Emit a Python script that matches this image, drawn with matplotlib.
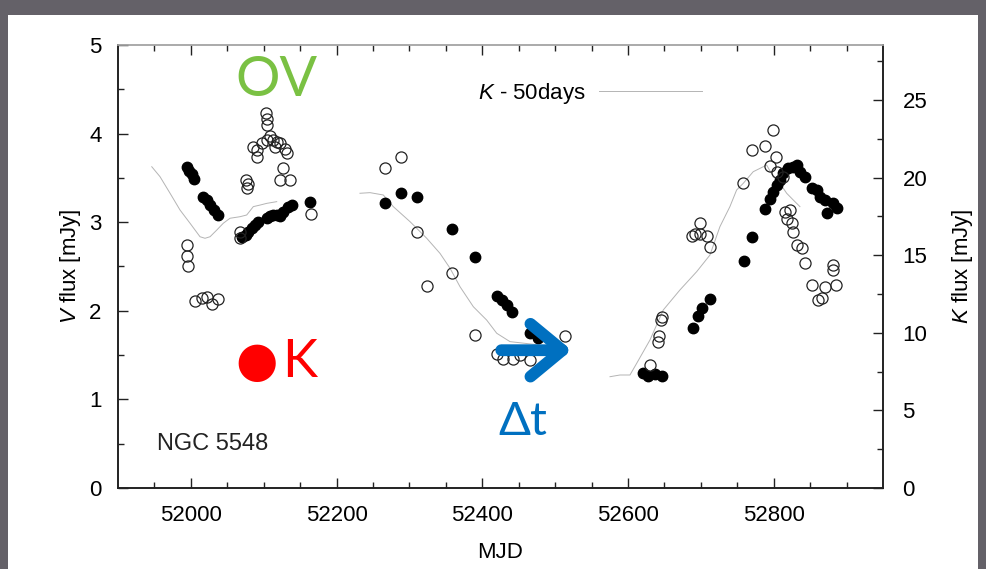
import numpy as np
import matplotlib.pyplot as plt
from matplotlib.patches import Rectangle

plt.rcParams['font.family'] = ['Liberation Sans', 'DejaVu Sans']
plt.rcParams['mathtext.fontset'] = 'custom'
plt.rcParams['mathtext.it'] = 'Liberation Sans:italic'
plt.rcParams['mathtext.rm'] = 'Liberation Sans'

# V band (open circles, left axis)
v_mjd = [51994.3, 51995.1, 51996.5, 52005.7, 52014.9, 52021.7, 52028.6, 52037.7,
         52067.4, 52067.4, 52075.7, 52078.8, 52077.5, 52085.7, 52090.4, 52091.2,
         52097.2, 52104.1, 52108.6, 52113.1, 52117.8, 52115.5, 52122.3, 52129.2,
         52131.5, 52103.1, 52104.9, 52104.1, 52126.9, 52122.3, 52136.1, 52164.5,
         52266.5, 52288.0, 52310.0, 52323.7, 52358.0, 52390.0, 52419.8, 52428.8,
         52442.5, 52451.7, 52465.5, 52513.5,
         52630.2, 52641.6, 52642.9, 52644.8, 52646.2, 52687.4, 52691.9, 52698.8,
         52698.8, 52708.0, 52712.5, 52758.2, 52769.7, 52788.0, 52798.6, 52803.1,
         52794.9, 52804.0, 52813.1, 52815.5, 52822.3, 52817.8, 52824.6, 52826.8,
         52831.4, 52838.3, 52842.9, 52852.1, 52861.2, 52865.8, 52870.4, 52881.8,
         52881.8, 52885.5]
v_flux = [2.74, 2.62, 2.51, 2.11, 2.14, 2.15, 2.08, 2.13,
          2.89, 2.82, 3.48, 3.43, 3.39, 3.85, 3.81, 3.74,
          3.89, 3.93, 3.97, 3.93, 3.91, 3.85, 3.89, 3.83,
          3.78, 4.23, 4.17, 4.10, 3.61, 3.48, 3.48, 3.09,
          3.61, 3.74, 2.89, 2.28, 2.43, 1.73, 1.51, 1.46,
          1.46, 1.50, 1.44, 1.71,
          1.39, 1.65, 1.71, 1.90, 1.93, 2.84, 2.87, 2.87,
          2.99, 2.84, 2.72, 3.44, 3.81, 3.86, 4.04, 3.74,
          3.63, 3.57, 3.51, 3.12, 3.14, 3.04, 2.99, 2.89,
          2.74, 2.71, 2.54, 2.29, 2.12, 2.14, 2.27, 2.52,
          2.46, 2.29]

# K band (filled circles, right axis)
k_mjd = [51994.3, 51997.9, 52001.2, 52004.7, 52017.1, 52021.7, 52026.3, 52031.8,
         52037.7, 52069.8, 52075.7, 52078.8, 52083.5, 52088.0, 52092.6, 52104.1,
         52108.6, 52113.1, 52117.8, 52122.3, 52126.9, 52133.7, 52138.4, 52163.5,
         52266.5, 52288.0, 52310.0, 52358.0, 52390.0, 52419.8, 52426.6, 52433.5,
         52440.4, 52465.5, 52476.9,
         52621.0, 52627.8, 52637.0, 52646.2, 52689.6, 52696.5, 52701.1, 52712.5,
         52759.2, 52770.6, 52788.0, 52794.9, 52799.4, 52804.1, 52808.6, 52813.1,
         52820.0, 52826.8, 52831.5, 52836.0, 52842.9, 52852.1, 52858.9, 52863.5,
         52870.4, 52872.7, 52881.8, 52887.2]
k_flux = [20.66, 20.44, 20.23, 19.89, 18.77, 18.56, 18.23, 17.91,
          17.61, 16.19, 16.30, 16.51, 16.73, 16.95, 17.16, 17.38,
          17.53, 17.59, 17.59, 17.53, 17.80, 18.09, 18.23, 18.45,
          18.38, 18.99, 18.77, 16.67, 14.90, 12.37, 12.11, 11.79,
          11.36, 9.97, 9.65,
          7.39, 7.22, 7.35, 7.24, 10.33, 11.08, 11.58, 12.18,
          14.63, 16.19, 17.96, 18.60, 19.09, 19.52, 19.85, 20.28,
          20.60, 20.70, 20.81, 20.38, 20.06, 19.31, 19.20, 18.77,
          18.56, 17.70, 18.34, 18.02]

# K light curve shifted by -50 days, one list per season
ks_mjd = [[51946.3, 51957.6, 51971.4, 51985.1, 51998.8, 52012.5, 52019.4, 52026.3,
           52035.5, 52044.5, 52053.7, 52067.4, 52076.6, 52085.7, 52094.9, 52104.1,
           52117.8],
          [52232.1, 52245.9, 52264.1, 52277.8, 52300.8, 52323.7, 52341.9, 52355.7,
           52369.4, 52387.7, 52406.0, 52419.8, 52438.0, 52479.2],
          [52575.3, 52589.0, 52602.7, 52611.9, 52630.2, 52648.4, 52671.3, 52694.3,
           52712.5, 52726.2, 52739.9, 52749.1, 52758.2, 52771.9, 52785.7, 52790.3,
           52799.4, 52808.6, 52817.8, 52826.8, 52836.0]]
ks_flux = [[20.70, 20.06, 18.99, 17.91, 17.06, 16.19, 16.09, 16.19,
            16.62, 17.06, 17.38, 17.48, 17.59, 18.13, 18.23, 18.34,
            18.45],
           [18.99, 19.03, 18.88, 18.13, 17.16, 16.09, 15.12, 14.16,
            12.97, 11.68, 10.82, 9.97, 9.43, 9.21],
           [7.17, 7.28, 7.28, 8.03, 9.54, 11.47, 12.76, 13.94,
            15.01, 16.84, 18.13, 19.20, 19.63, 20.38, 20.70, 20.81,
            20.06, 19.63, 18.99, 18.56, 18.13]]

fig = plt.figure(figsize=(9.87, 5.69), dpi=100, facecolor='#646168')
fig.patches.append(Rectangle((8 / 987, 0), 970 / 987, 554 / 569,
                             transform=fig.transFigure, facecolor='white',
                             edgecolor='none', zorder=-5))

ax = fig.add_axes([0.1196, 0.1424, 0.7750, 0.7785])
ax2 = ax.twinx()
ax.set_zorder(2)
ax2.set_zorder(1)
ax.patch.set_visible(False)
ax2.patch.set_visible(False)

for i in range(len(ks_mjd)):
    ax2.plot(ks_mjd[i], ks_flux[i], color='#b4b4b4', lw=0.7,
             label=r'$K$ - 50days' if i == 0 else None)
ax2.plot(k_mjd, k_flux, linestyle='none', marker='o', ms=7.5, color='black')
ax.plot(v_mjd, v_flux, linestyle='none', marker='o', ms=8, mfc='none',
        mec='#222222', mew=0.9)

ax.set_xlim(51900, 52950)
ax.set_ylim(0, 5)
ax2.set_ylim(0, 5 * 88.6 / 15.52)

ax.set_xticks([52000, 52200, 52400, 52600, 52800])
ax.set_xticks(np.arange(51950, 52950, 50), minor=True)
ax.set_yticks([0, 1, 2, 3, 4, 5])
ax.set_yticks(np.arange(0.5, 5, 1), minor=True)
ax2.set_yticks([0, 5, 10, 15, 20, 25])
ax2.set_yticks(np.arange(2.5, 28.5, 5), minor=True)

ax.tick_params(which='both', direction='in', top=True, right=False,
               labelsize=16, width=1.0, color='#222222')
ax.tick_params(which='major', length=7)
ax.tick_params(which='minor', length=4)
ax.tick_params(axis='x', which='both', pad=12)
ax.tick_params(axis='y', which='both', pad=12)
ax2.tick_params(which='both', direction='in', labelsize=16, width=1.0, color='#222222')
ax2.tick_params(which='major', length=7, pad=14)
ax2.tick_params(which='minor', length=4)

for a in (ax, ax2):
    for s in a.spines.values():
        s.set_linewidth(1.2)
        s.set_color('#222222')
    a.spines['top'].set_color('#aaaaaa')

ax.set_xlabel('MJD', fontsize=16, labelpad=12)
ax.set_ylabel(r'$V$ flux [mJy]', fontsize=16, labelpad=4)
ax2.set_ylabel(r'$K$ flux [mJy]', fontsize=16, labelpad=16)

leg = ax2.legend(loc='upper left', bbox_to_anchor=(0.445, 0.965), frameon=False,
                 markerfirst=False, fontsize=16, handlelength=4.6, handletextpad=0.6)

ax.text(0.051, 0.10, 'NGC 5548', transform=ax.transAxes, fontsize=17,
        va='center', ha='left', color='#222222')

# colour key and lag arrow drawn over the light curves
ax.text(0.153, 0.92, 'OV', transform=ax.transAxes, fontsize=40,
        color='#7ac143', va='center', ha='left', family='Lato')
ax.text(0.181, 0.284, '\u25cf', transform=ax.transAxes, fontsize=35,
        color='#ff0000', va='center', ha='center', family='DejaVu Sans')
ax.text(0.214, 0.284, 'K', transform=ax.transAxes, fontsize=38,
        color='#ff0000', va='center', ha='left', family='Lato')
ax.text(0.497, 0.149, '\u0394t', transform=ax.transAxes, fontsize=34,
        color='#0070c0', va='center', ha='left', family='Lato')
ax.annotate('', xy=(0.593, 0.311), xytext=(0.501, 0.311), xycoords='axes fraction',
            arrowprops=dict(arrowstyle='->,head_length=2.3,head_width=1.9',
                            lw=8.5, color='#0070c0', capstyle='round',
                            joinstyle='round', shrinkA=0, shrinkB=0))

fig.savefig('out.png', dpi=100, facecolor=fig.get_facecolor())
